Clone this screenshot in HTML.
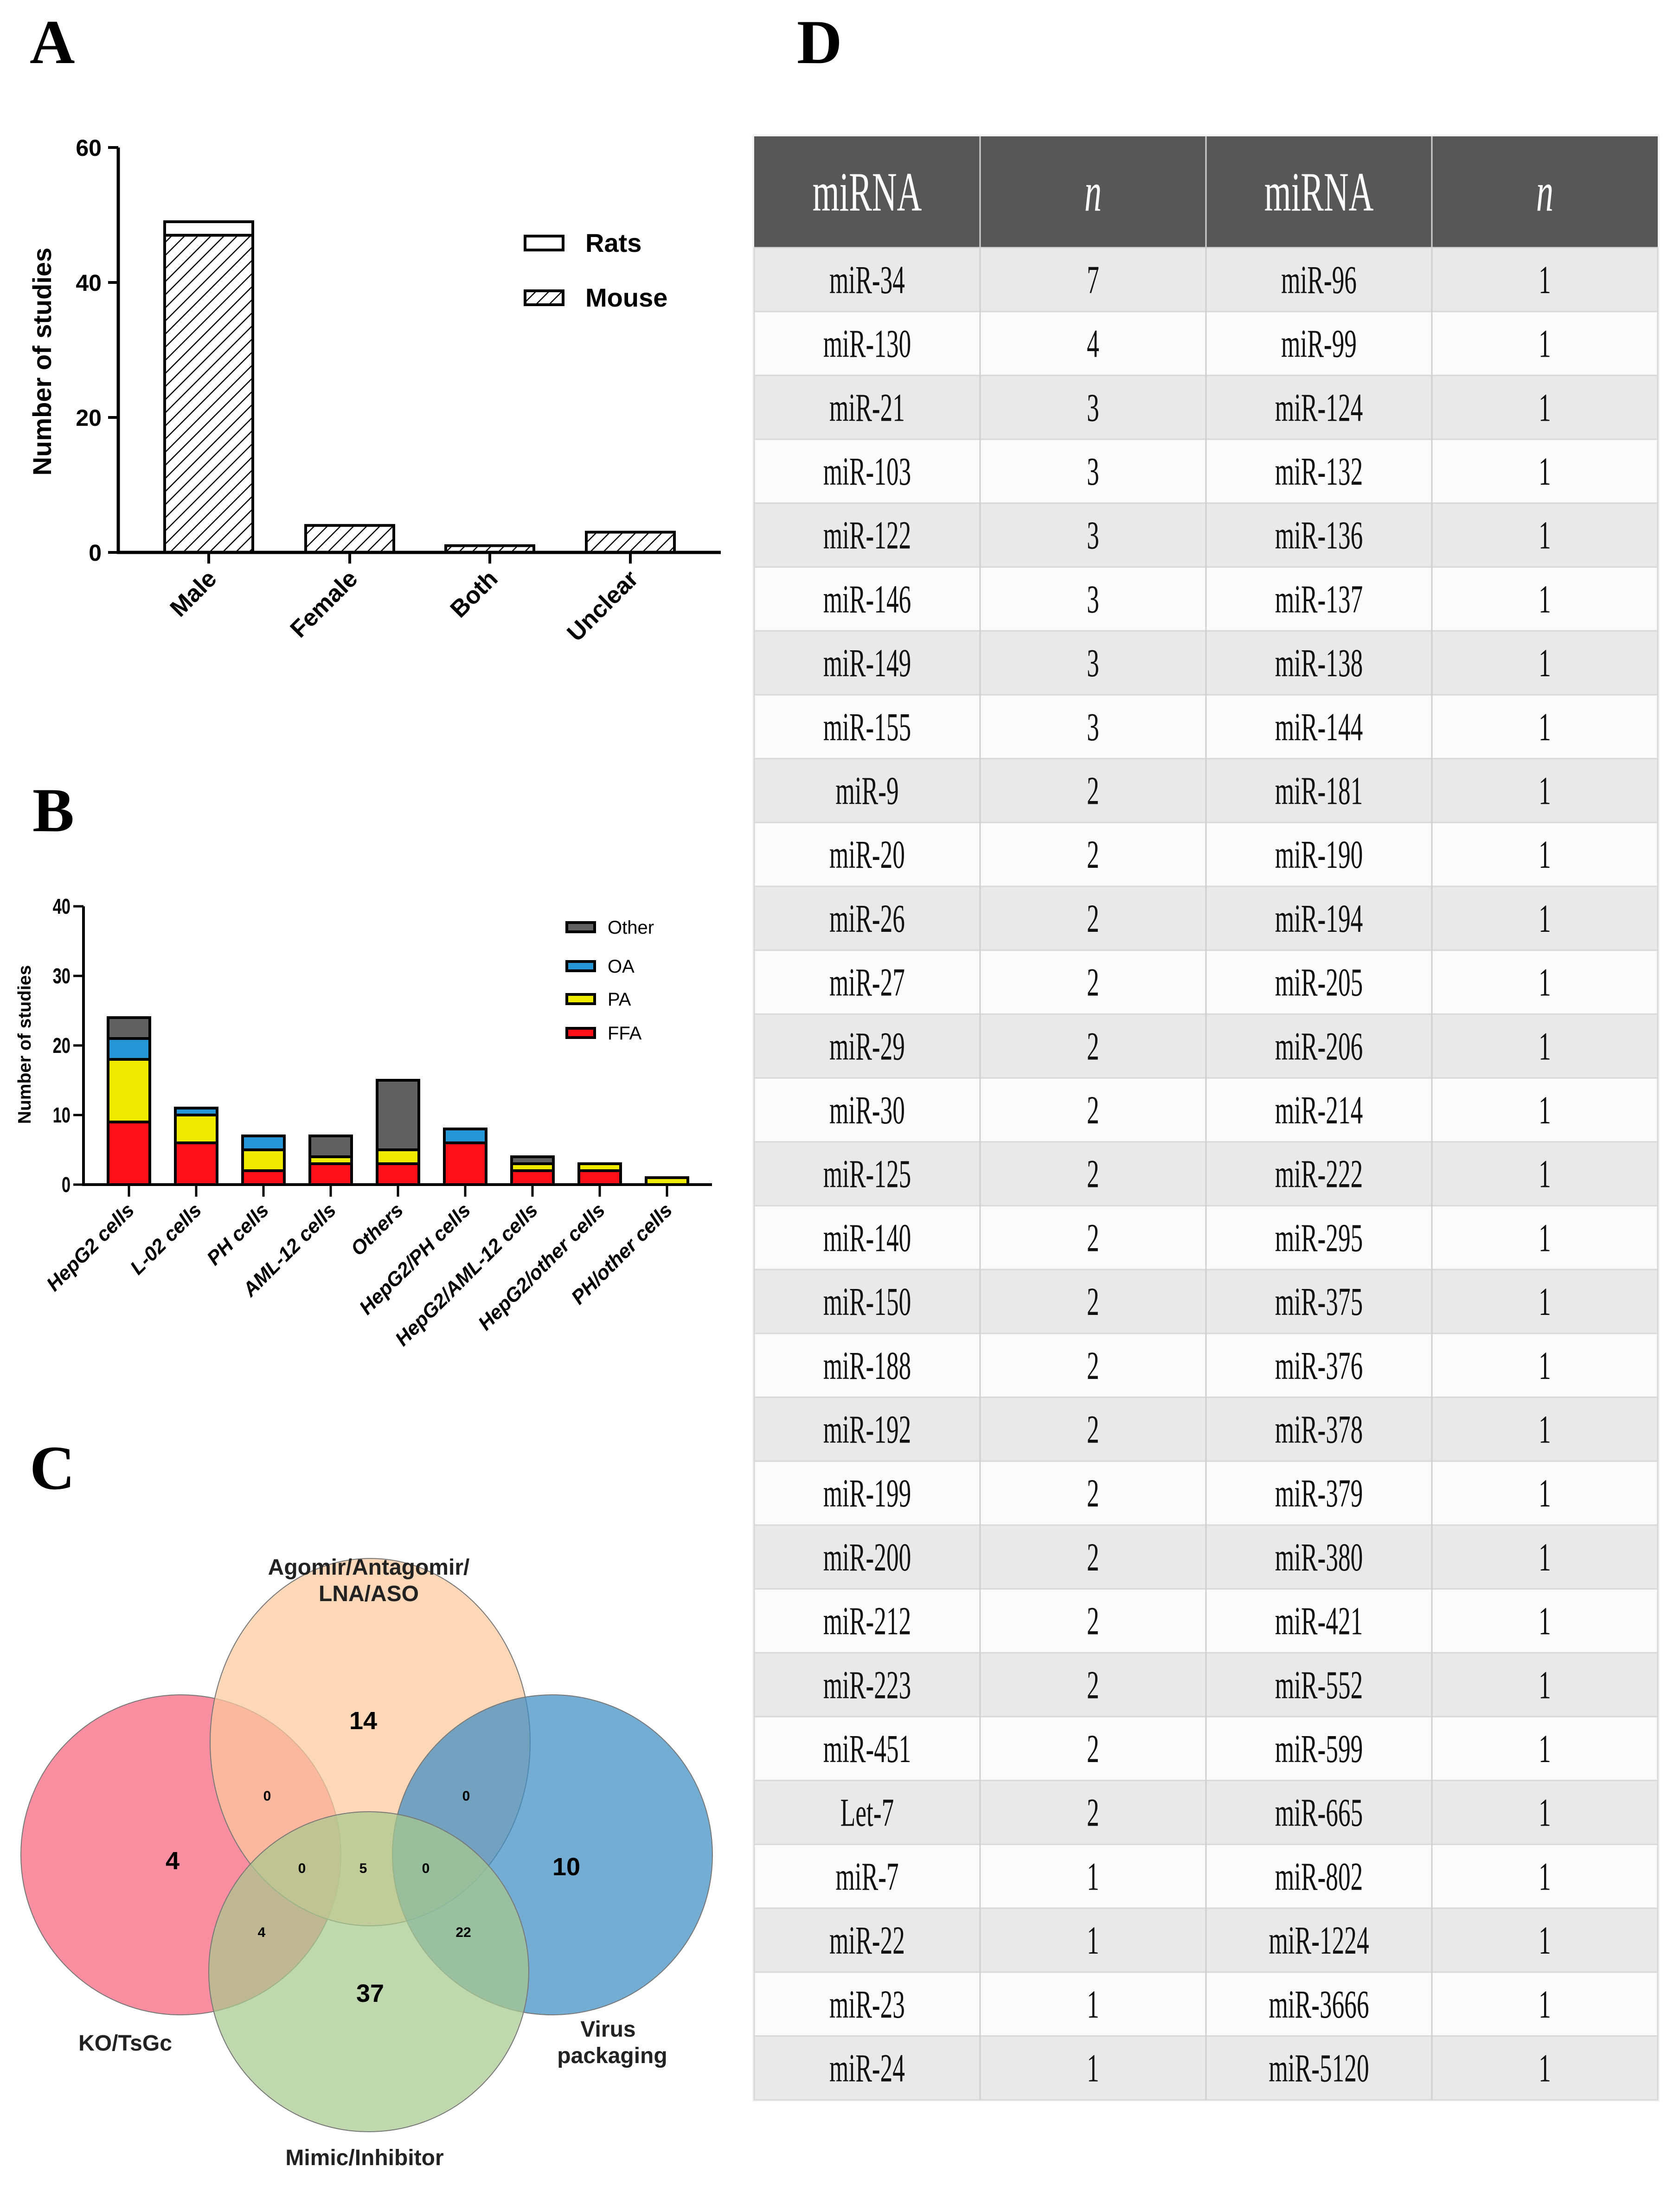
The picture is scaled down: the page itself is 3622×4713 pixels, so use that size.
<!DOCTYPE html>
<html><head><meta charset="utf-8"><style>
html,body{margin:0;padding:0;background:#fff}
svg{display:block}
.sans{font-family:"Liberation Sans",Arial,sans-serif}
.panel{font-family:"Liberation Serif",serif;font-weight:bold;font-size:135px}
</style></head><body>
<svg id="fig" class="sans" width="3622" height="4713" viewBox="0 0 3622 4713" xmlns="http://www.w3.org/2000/svg">
<defs>
<pattern id="hatch" patternUnits="userSpaceOnUse" width="20" height="20" patternTransform="rotate(45)">
<rect width="20" height="20" fill="#fff"/><line x1="0" y1="0" x2="0" y2="20" stroke="#000" stroke-width="5"/>
</pattern>
</defs>
<text class="panel" x="64" y="136">A</text>
<text class="panel" x="70" y="1792">B</text>
<text class="panel" x="64" y="3210">C</text>
<text class="panel" x="1718" y="136">D</text>
<g id="chartA"></g>
<g id="chartB"></g>
<g id="venn"></g>
<g id="table"></g>
</svg>
<script>
const NS="http://www.w3.org/2000/svg";
// ---- Chart A data ----
const aCats=["Male","Female","Both","Unclear"];
const aMouse=[47,4,1,3];
const aRats=[2,0,0,0];
const aTicks=[0,20,40,60];
// ---- Chart B data ----
const bCats=["HepG2 cells","L-02 cells","PH cells","AML-12 cells","Others","HepG2/PH cells","HepG2/AML-12 cells","HepG2/other cells","PH/other cells"];
const bFFA=[9,6,2,3,3,6,2,2,0];
const bPA=[9,4,3,1,2,0,1,1,1];
const bOA=[3,1,2,0,0,2,0,0,0];
const bOther=[3,0,0,3,10,0,1,0,0];
const bTicks=[0,10,20,30,40];
// ---- Table data ----
const tNames1=["miR-34","miR-130","miR-21","miR-103","miR-122","miR-146","miR-149","miR-155","miR-9","miR-20","miR-26","miR-27","miR-29","miR-30","miR-125","miR-140","miR-150","miR-188","miR-192","miR-199","miR-200","miR-212","miR-223","miR-451","Let-7","miR-7","miR-22","miR-23","miR-24"];
const tN1=[7,4,3,3,3,3,3,3,2,2,2,2,2,2,2,2,2,2,2,2,2,2,2,2,2,1,1,1,1];
const tNames2=["miR-96","miR-99","miR-124","miR-132","miR-136","miR-137","miR-138","miR-144","miR-181","miR-190","miR-194","miR-205","miR-206","miR-214","miR-222","miR-295","miR-375","miR-376","miR-378","miR-379","miR-380","miR-421","miR-552","miR-599","miR-665","miR-802","miR-1224","miR-3666","miR-5120"];
const tN2=[1,1,1,1,1,1,1,1,1,1,1,1,1,1,1,1,1,1,1,1,1,1,1,1,1,1,1,1,1];

function el(parent,tag,attrs,txt){const e=document.createElementNS(NS,tag);for(const k in attrs)e.setAttribute(k,attrs[k]);if(txt!==undefined)e.textContent=txt;parent.appendChild(e);return e;}

// ---- Chart A ----
(function(){
const g=document.getElementById('chartA');
const x0=255,y0=1191,yTop=318,xEnd=1554;
const ys=v=>y0-(v/60)*(y0-yTop);
const centers=[450,754,1056,1359],bw=190;
aTicks.forEach(t=>{
 const l=el(g,'line',{x1:x0-22,x2:x0,y1:ys(t),y2:ys(t),stroke:'#000','stroke-width':6});
 
 const tx=el(g,'text',{x:x0-36,y:ys(t)+18,'text-anchor':'end','font-size':50,'font-weight':'bold'},t);
 
});
aCats.forEach((c,i)=>{
 const cx=centers[i];
 const m=el(g,'rect',{x:cx-bw/2,y:ys(aMouse[i]),width:bw,height:ys(0)-ys(aMouse[i]),fill:'url(#hatch)',stroke:'#000','stroke-width':6});
 
 if(aRats[i]>0){const r=el(g,'rect',{x:cx-bw/2,y:ys(aMouse[i]+aRats[i]),width:bw,height:ys(aMouse[i])-ys(aMouse[i]+aRats[i]),fill:'#fff',stroke:'#000','stroke-width':6});
 }
 const tk=el(g,'line',{x1:cx,x2:cx,y1:y0,y2:y0+24,stroke:'#000','stroke-width':6});
 
 const lb=el(g,'text',{transform:`translate(${cx+20},${y0+60}) rotate(-45)`,'text-anchor':'end','font-size':52,'font-weight':'bold'},c);
 
});
const ax=el(g,'path',{d:`M${x0},${yTop} V${y0} H${xEnd}`,fill:'none',stroke:'#000','stroke-width':7});

const yl=el(g,'text',{transform:`translate(110,${(y0+yTop)/2+25}) rotate(-90)`,'text-anchor':'middle','font-size':56,'font-weight':'bold'},'Number of studies');

[['Rats','#fff',525],['Mouse','url(#hatch)',643]].forEach(([n,f,y])=>{
 const b=el(g,'rect',{x:1132,y:y-16,width:82,height:30,fill:f,stroke:'#000','stroke-width':6});
 
 const t=el(g,'text',{x:1262,y:y+18,'font-size':56,'font-weight':'bold'},n);
 
});
})();

// ---- Chart B ----
(function(){
const g=document.getElementById('chartB');
const x0=180,y0=2554,yTop=1954,xEnd=1535;
const ys=v=>y0-(v/40)*(y0-yTop);
const bw=90;
const cx=i=>278+i*145;
bTicks.forEach(t=>{
 const l=el(g,'line',{x1:x0-22,x2:x0,y1:ys(t),y2:ys(t),stroke:'#000','stroke-width':5});
 
 const tx=el(g,'text',{transform:`translate(${x0-28},${ys(t)+16}) scale(0.75,1)`,'text-anchor':'end','font-size':46,'font-weight':'bold'},t);
 
});
const series=[['ffa',bFFA,'#ff0f17'],['pa',bPA,'#eeea00'],['oa',bOA,'#2596d6'],['other',bOther,'#616161']];
bCats.forEach((c,i)=>{
 let base=0;
 series.forEach(([n,arr,col])=>{
  const v=arr[i]; if(v<=0)return;
  const r=el(g,'rect',{x:cx(i)-bw/2,y:ys(base+v),width:bw,height:ys(base)-ys(base+v),fill:col,stroke:'#000','stroke-width':6});
  
  base+=v;
 });
 const tk=el(g,'line',{x1:cx(i),x2:cx(i),y1:y0,y2:y0+26,stroke:'#000','stroke-width':5});
 
 const lb=el(g,'text',{transform:`translate(${cx(i)+14},${y0+58}) rotate(-45)`,'text-anchor':'end','font-size':43,'font-weight':'bold','font-style':'italic'},c);
 
});
const ax=el(g,'path',{d:`M${x0},${yTop} V${y0} H${xEnd}`,fill:'none',stroke:'#000','stroke-width':6});

const yl=el(g,'text',{transform:`translate(66,2252) rotate(-90)`,'text-anchor':'middle','font-size':39,'font-weight':'bold'},'Number of studies');

[['Other','#616161',1999],['OA','#2596d6',2083],['PA','#eeea00',2154],['FFA','#ff0f17',2227]].forEach(([n,f,y])=>{
 const b=el(g,'rect',{x:1222,y:y-10,width:60,height:20,fill:f,stroke:'#000','stroke-width':6});
 
 const t=el(g,'text',{x:1310,y:y+14,'font-size':40},n);
 
});
})();

// ---- Venn ----
(function(){
const g=document.getElementById('venn');
const sets=[['ko',390,3999,345,345,'#f7637c'],['agomir',798,3756,345,396,'#fcc99c'],['virus',1191,3999,345,345,'#3d8ec3'],['mimic',795,4251,345,345,'#a8c98e']];
sets.forEach(([n,cx,cy,rx,ry,c])=>{
 const e=el(g,'ellipse',{cx,cy,rx,ry,fill:c,'fill-opacity':0.72,stroke:'#777','stroke-width':2});
 
});
const nums=[['4',372,4030,54],['14',783,3728,54],['10',1221,4043,54],['37',798,4316,54],['0',576,3882,30],['0',1005,3882,30],['0',651,4038,30],['5',783,4038,30],['0',918,4038,30],['4',564,4176,30],['22',999,4176,30]];
nums.forEach(([t,x,y,s])=>{
 const tx=el(g,'text',{x,y,'text-anchor':'middle','font-size':s,'font-weight':'bold'},t);
 
});
const labs=[['Agomir/Antagomir/',795,3395],['LNA/ASO',795,3452],['KO/TsGc',270,4421],['Virus',1311,4391],['packaging',1320,4448],['Mimic/Inhibitor',786,4668]];
labs.forEach(([t,x,y])=>{
 const tx=el(g,'text',{x,y,'text-anchor':'middle','font-size':48,'font-weight':'bold','fill':'#222'},t);
 
});
})();

// ---- Table ----
(function(){
const g=document.getElementById('table');
const X0=1626,W=487,hTop=294,hH=240,rH=137.7;
const SERIF='font-family:"Liberation Serif","DejaVu Serif",serif';
const bg=el(g,'rect',{x:X0-4,y:hTop-4,width:W*4+8,height:hH+rH*29+8,fill:'#f3f3f3'});

const hd=el(g,'rect',{x:X0,y:hTop,width:W*4,height:hH,fill:'#575757'});

const heads=['miRNA','n','miRNA','n'];
heads.forEach((h,j)=>{
 const t=el(g,'text',{transform:`translate(${X0+W*j+W/2},${hTop+160}) scale(0.62,1)`,'text-anchor':'middle','font-size':120,fill:'#fff',style:SERIF+(h==='n'?';font-style:italic':'')},h);
 
});
for(let i=0;i<tNames1.length;i++){
 const y=hTop+hH+i*rH;
 const r=el(g,'rect',{x:X0,y,width:W*4,height:rH,fill:i%2===0?'#e9e9e9':'#fbfbfb',stroke:'#d9d9d9','stroke-width':3});
 
 const vals=[tNames1[i],tN1[i],tNames2[i],tN2[i]];
 vals.forEach((v,j)=>{
  const t=el(g,'text',{transform:`translate(${X0+W*j+W/2},${y+rH/2+29}) scale(0.62,1)`,'text-anchor':'middle','font-size':86,fill:'#111',style:SERIF},v);
  
 });
}
for(let j=1;j<4;j++){
 const l=el(g,'line',{x1:X0+W*j,x2:X0+W*j,y1:hTop,y2:hTop+hH+rH*29,stroke:'#d0d0d0','stroke-width':3});
 
}
})();
</script>
</body></html>
